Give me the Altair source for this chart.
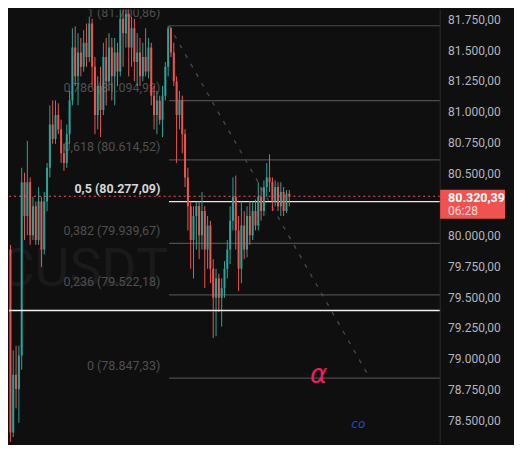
import altair as alt
import pandas as pd

# ---- candle data (BTCUSDT) ----
opens = [79889, 78408, 78876, 78759, 79032, 80434, 80161, 80434, 80005, 80239,
         79966, 80278, 79889, 80278, 80551, 80901, 80784, 80979, 80862, 80668,
         80590, 80823, 81096, 81524, 81291, 81485, 81369, 81563, 81447, 81719,
         81369, 80979, 81213, 81018, 81447, 81252, 81524, 81291, 81485, 81330,
         81758, 81641, 81797, 81524, 81680, 81408, 81485, 81291, 81447, 81330,
         81524, 81135, 80979, 81096, 80940, 81135, 81369, 81680, 81485, 81252,
         80979, 81096, 80823, 80473, 80239, 79966, 80161, 80239, 80005, 80200,
         79889, 80083, 79733, 79499, 79655, 79499, 79577, 79733, 79889, 80122,
         80317, 80044, 79733, 80083, 79889, 80161, 80005, 80200, 80083, 80317,
         80200, 80395, 80473, 80434, 80278, 80395, 80239, 80355, 80200, 80340]
closes = [78408, 78876, 78759, 79032, 80434, 80161, 80434, 80005, 80239, 79966,
          80278, 79889, 80278, 80551, 80901, 80784, 80979, 80862, 80668, 80590,
          80823, 81096, 81524, 81291, 81485, 81369, 81563, 81447, 81719, 81369,
          80979, 81213, 81018, 81447, 81252, 81524, 81291, 81485, 81330, 81758,
          81641, 81797, 81524, 81680, 81408, 81485, 81291, 81447, 81330, 81524,
          81135, 80979, 81096, 80940, 81135, 81369, 81680, 81485, 81252, 80979,
          81096, 80823, 80473, 80239, 79966, 80161, 80239, 80005, 80200, 79889,
          80083, 79733, 79499, 79655, 79499, 79577, 79733, 79889, 80122, 80317,
          80044, 79733, 80083, 79889, 80161, 80005, 80200, 80083, 80317, 80200,
          80395, 80473, 80434, 80278, 80395, 80239, 80355, 80200, 80340, 80320.39]
highs = [79927, 79071, 79110, 79110, 80551, 80512, 80769, 80473, 80317, 80278,
         80395, 80317, 80355, 80590, 81057, 81096, 81096, 81073, 80940, 80745,
         80901, 81174, 81680, 81696, 81641, 81602, 81665, 81719, 81774, 81758,
         81447, 81291, 81369, 81563, 81602, 81641, 81602, 81602, 81563, 81850,
         81860, 81870, 81840, 81774, 81758, 81641, 81602, 81563, 81680, 81602,
         81563, 81213, 81174, 81135, 81213, 81408, 81700.86, 81690, 81563, 81291,
         81174, 81135, 80862, 80551, 80278, 80239, 80278, 80278, 80355, 80239,
         80161, 80122, 79811, 79733, 79694, 79655, 79795, 79966, 80239, 80473,
         80488, 80161, 80278, 80200, 80239, 80278, 80278, 80294, 80434, 80395,
         80449, 80590, 80660, 80473, 80449, 80434, 80434, 80395, 80371, 80371]
lows = [78331, 78370, 78603, 78486, 78915, 79966, 80005, 79927, 79966, 79927,
        79927, 79748, 79850, 80200, 80473, 80745, 80745, 80823, 80590, 80527,
        80551, 80745, 81057, 81213, 81057, 81291, 81330, 81369, 81408, 81213,
        80823, 80862, 80800, 80979, 81057, 81174, 81096, 81057, 81213, 81291,
        81369, 81524, 81291, 81369, 81252, 81213, 81213, 81252, 81291, 81275,
        81057, 80862, 80823, 80901, 80800, 81096, 81291, 81447, 81213, 80590,
        80862, 80668, 80395, 80044, 79733, 79655, 79889, 79811, 79889, 79577,
        79733, 79616, 79172, 79187, 79382, 79265, 79499, 79655, 79772, 80044,
        79889, 79554, 79616, 79811, 79826, 79927, 79966, 80044, 80044, 80122,
        80161, 80317, 80355, 80200, 80239, 80200, 80161, 80161, 80185, 80239]

# ---- Fibonacci retracement ----
fib_ratios = ["1", "0,786", "0,618", "0,5", "0,382", "0,236", "0"]
fib_prices = [81700.86, 81094.92, 80614.52, 80277.09, 79939.67, 79522.18, 78847.33]
fib_start = 56.3
fib_label_x = 53.25
diag_x = [56.3, 127.6]
diag_p = [81700.86, 78847.33]

hline_price = 79395
last_price = 80320.39
countdown = "06:28"
tick_values = [78500, 78750, 79000, 79250, 79500, 79750, 80000,
               80500, 80750, 81000, 81250, 81500, 81750]
watermark = "BTCUSDT"
wm_x, wm_p = 56.0, 79590
notes = ["α", "co"]
note_x = [109.4, 123.5]
note_p = [78871, 78474]
note_colors = ["#e91e63", "#2447c8"]
note_sizes = [26, 12]

# price-scale panel (right side) in bar-index units
AXIS_X = 152.57      # border between chart and price scale
LABEL_X = 155.4      # left edge of price labels
BOX_X2 = 175.6       # right edge of the last-price tag
X_DOMAIN = [-0.51, 178.79]
Y_DOMAIN = [78318, 81833]

UP, DOWN = "#26a69a", "#ef5350"
BG = "#0f0f0f"


def fmt(p):
    s = f"{p:,.2f}"
    return s.replace(",", "#").replace(".", ",").replace("#", ".")


xs = alt.Scale(domain=X_DOMAIN, nice=False, zero=False)
ys = alt.Scale(domain=Y_DOMAIN, nice=False, zero=False)


def X(f):
    return alt.X(f"{f}:Q", scale=xs, axis=None, title=None)


def Y(f):
    return alt.Y(f"{f}:Q", scale=ys, axis=None, title=None)


candles = pd.DataFrame({
    "i": list(range(len(opens))), "o": opens, "h": highs, "l": lows, "c": closes,
})
candles["col"] = [UP if c >= o else DOWN for o, c in zip(opens, closes)]

fib = pd.DataFrame({
    "x1": [fib_start] * len(fib_prices), "x2": [AXIS_X] * len(fib_prices),
    "lx": [fib_label_x] * len(fib_prices), "p": fib_prices,
    "label": [f"{r} ({fmt(p)})" for r, p in zip(fib_ratios, fib_prices)],
    "col": ["#e8e8e8" if r == "0,5" else "#4d4d4d" for r in fib_ratios],
    "tcol": ["#d6d6d6" if r == "0,5" else "#4f4f4f" for r in fib_ratios],
    "main": [r == "0,5" for r in fib_ratios],
})

base = alt.Chart(candles)

wm = alt.Chart(pd.DataFrame({"x": [wm_x], "p": [wm_p], "t": [watermark]})).mark_text(
    align="right", baseline="alphabetic", fontSize=54, font="Roboto", color="#1a1a1c", clip=True
).encode(x=X("x"), y=Y("p"), text="t:N")

fib_lines = alt.Chart(fib).mark_rule(strokeWidth=1.2, clip=True).encode(
    x=X("x1"), x2="x2:Q", y=Y("p"), color=alt.Color("col:N", scale=None))

hline = alt.Chart(pd.DataFrame({"x1": [X_DOMAIN[0]], "x2": [AXIS_X], "p": [hline_price]})).mark_rule(
    strokeWidth=1.5, color="#f2f2f2").encode(x=X("x1"), x2="x2:Q", y=Y("p"))

diag = alt.Chart(pd.DataFrame({"x": diag_x, "p": diag_p})).mark_line(
    strokeDash=[4, 7], strokeWidth=1.3, color="#4a4a4a").encode(x=X("x"), y=Y("p"))

fib_text = alt.Chart(fib).transform_filter("!datum.main").mark_text(
    align="right", baseline="middle", dy=-12.5, fontSize=12.5, font="Roboto", clip=True
).encode(x=X("lx"), y=Y("p"), text="label:N", color=alt.Color("tcol:N", scale=None))

fib_text_main = alt.Chart(fib).transform_filter("datum.main").mark_text(
    align="right", baseline="middle", dy=-12.5, fontSize=12.5, font="Roboto", fontWeight="bold", clip=True
).encode(x=X("lx"), y=Y("p"), text="label:N", color=alt.Color("tcol:N", scale=None))

wicks = base.mark_rule(strokeWidth=1, clip=True).encode(
    x=X("i"), y=Y("l"), y2="h:Q", color=alt.Color("col:N", scale=None))
bodies = base.mark_rule(strokeWidth=2, clip=True).encode(
    x=X("i"), y=Y("o"), y2="c:Q", color=alt.Color("col:N", scale=None))

# price scale: border + labels
border = alt.Chart(pd.DataFrame({"x": [AXIS_X]})).mark_rule(
    color="#2c2c2c", strokeWidth=1).encode(x=X("x"))
scale_df = pd.DataFrame({"x": [LABEL_X] * len(tick_values), "p": tick_values,
                         "t": [fmt(v) for v in tick_values]})
scale_labels = alt.Chart(scale_df).mark_text(
    align="left", baseline="middle", fontSize=12, font="Roboto", color="#b2b5be"
).encode(x=X("x"), y=Y("p"), text="t:N")

price_df = pd.DataFrame({"x1": [X_DOMAIN[0]], "x2": [AXIS_X], "bx1": [AXIS_X], "bx2": [BOX_X2],
                         "lx": [LABEL_X], "p": [last_price],
                         "t": [fmt(last_price)], "cd": [countdown]})
price_line = alt.Chart(price_df).mark_rule(strokeDash=[2, 3], strokeWidth=1, color="#f7525f").encode(
    x=X("x1"), x2="x2:Q", y=Y("p"))
box_layers = [
    alt.Chart(price_df).mark_rule(strokeWidth=10, strokeCap="butt", color="#ef5350", yOffset=off).encode(
        x=X("bx1"), x2="bx2:Q", y=Y("p"))
    for off in (-1.5, 8, 17.5)
]
price_txt = alt.Chart(price_df).mark_text(
    align="left", baseline="middle", dy=1.5, fontSize=12.5, font="Roboto", fontWeight="bold", color="#ffffff"
).encode(x=X("lx"), y=Y("p"), text="t:N")
cd_txt = alt.Chart(price_df).mark_text(
    align="left", baseline="middle", dy=15, fontSize=12, font="Roboto", color="#fbdada"
).encode(x=X("lx"), y=Y("p"), text="cd:N")

notes_df = pd.DataFrame({"x": note_x, "p": note_p, "t": notes, "col": note_colors, "s": note_sizes})
note_marks = alt.Chart(notes_df).mark_text(
    align="center", baseline="middle", font="DejaVu Sans", fontStyle="italic"
).encode(x=X("x"), y=Y("p"), text="t:N", color=alt.Color("col:N", scale=None),
         size=alt.Size("s:Q", scale=None, legend=None))

chart = alt.layer(
    wm, fib_lines, diag, fib_text, fib_text_main, wicks, bodies, hline, price_line,
    note_marks, border, scale_labels, *box_layers, price_txt, cd_txt,
).properties(
    width=506, height=435, padding=0, background=BG,
).configure_view(strokeWidth=0)

chart.save("out.html", embed_options={"renderer": "svg", "actions": False})
